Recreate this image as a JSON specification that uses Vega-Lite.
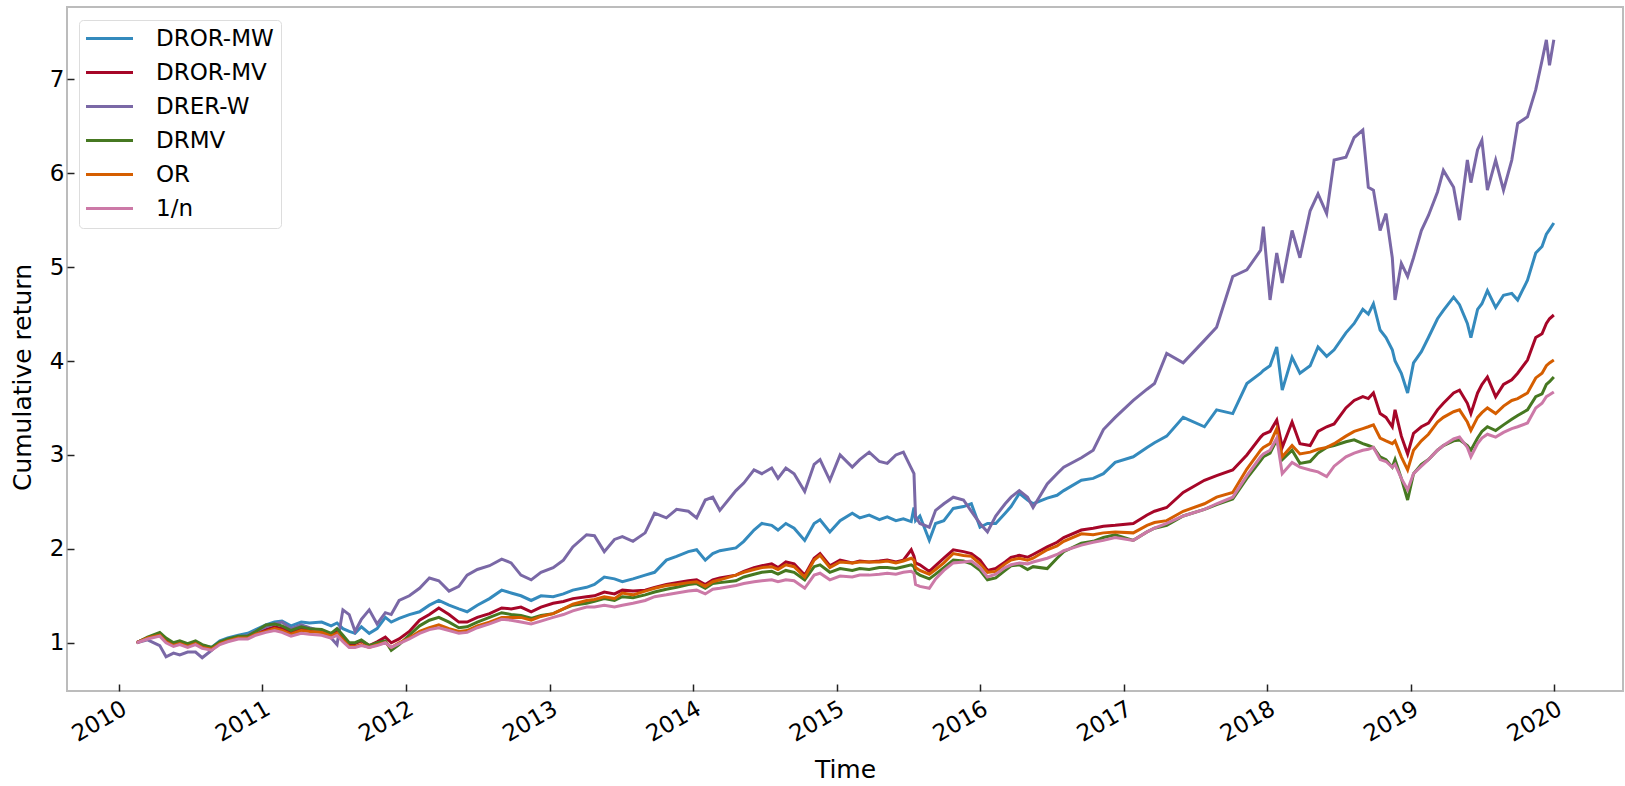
{
  "$schema": "https://vega.github.io/schema/vega-lite/v6.json",
  "width": 1556,
  "height": 684,
  "autosize": {"type": "none"},
  "padding": {"left": 67, "top": 7, "right": 2, "bottom": 95},
  "background": "white",
  "config": {
    "font": "DejaVu Sans",
    "view": {"stroke": "#bcbcbc", "strokeWidth": 2},
    "axis": {
      "grid": false,
      "domain": false,
      "tickColor": "#222222",
      "tickWidth": 1.5,
      "labelColor": "#000000",
      "titleColor": "#000000",
      "labelFontSize": 23,
      "titleFontSize": 25,
      "titleFontWeight": "normal",
      "labelFont": "DejaVu Sans",
      "titleFont": "DejaVu Sans"
    }
  },
  "data": {
    "values": [
      {"date": "2010-02-15", "DROR-MW": 1.00, "DROR-MV": 1.00, "DRER-W": 1.00, "DRMV": 1.00, "OR": 1.00, "1/n": 1.00},
      {"date": "2010-03-15", "DROR-MW": 1.05, "DROR-MV": 1.05, "DRER-W": 1.03, "DRMV": 1.06, "OR": 1.05, "1/n": 1.04},
      {"date": "2010-04-15", "DROR-MW": 1.08, "DROR-MV": 1.08, "DRER-W": 0.97, "DRMV": 1.11, "OR": 1.08, "1/n": 1.07},
      {"date": "2010-05-01", "DROR-MW": 1.02, "DROR-MV": 1.02, "DRER-W": 0.85, "DRMV": 1.05, "OR": 1.01, "1/n": 1.00},
      {"date": "2010-05-20", "DROR-MW": 0.98, "DROR-MV": 0.98, "DRER-W": 0.89, "DRMV": 1.00, "OR": 0.97, "1/n": 0.96},
      {"date": "2010-06-05", "DROR-MW": 1.00, "DROR-MV": 0.99, "DRER-W": 0.87, "DRMV": 1.02, "OR": 0.99, "1/n": 0.98},
      {"date": "2010-06-25", "DROR-MW": 0.97, "DROR-MV": 0.97, "DRER-W": 0.90, "DRMV": 0.99, "OR": 0.96, "1/n": 0.95},
      {"date": "2010-07-15", "DROR-MW": 1.00, "DROR-MV": 1.00, "DRER-W": 0.90, "DRMV": 1.02, "OR": 0.99, "1/n": 0.98},
      {"date": "2010-08-01", "DROR-MW": 0.97, "DROR-MV": 0.96, "DRER-W": 0.84, "DRMV": 0.98, "OR": 0.95, "1/n": 0.94},
      {"date": "2010-08-25", "DROR-MW": 0.95, "DROR-MV": 0.94, "DRER-W": 0.92, "DRMV": 0.95, "OR": 0.93, "1/n": 0.92},
      {"date": "2010-09-15", "DROR-MW": 1.02, "DROR-MV": 1.00, "DRER-W": 1.00, "DRMV": 1.01, "OR": 0.99, "1/n": 0.98},
      {"date": "2010-10-05", "DROR-MW": 1.05, "DROR-MV": 1.03, "DRER-W": 1.03, "DRMV": 1.04, "OR": 1.02, "1/n": 1.01},
      {"date": "2010-11-01", "DROR-MW": 1.08, "DROR-MV": 1.06, "DRER-W": 1.06, "DRMV": 1.07, "OR": 1.05, "1/n": 1.04},
      {"date": "2010-11-25", "DROR-MW": 1.10, "DROR-MV": 1.06, "DRER-W": 1.08, "DRMV": 1.07, "OR": 1.05, "1/n": 1.04},
      {"date": "2010-12-15", "DROR-MW": 1.14, "DROR-MV": 1.10, "DRER-W": 1.12, "DRMV": 1.12, "OR": 1.09, "1/n": 1.08},
      {"date": "2011-01-10", "DROR-MW": 1.19, "DROR-MV": 1.14, "DRER-W": 1.17, "DRMV": 1.19, "OR": 1.12, "1/n": 1.11},
      {"date": "2011-02-01", "DROR-MW": 1.22, "DROR-MV": 1.17, "DRER-W": 1.20, "DRMV": 1.20, "OR": 1.15, "1/n": 1.13},
      {"date": "2011-02-20", "DROR-MW": 1.23, "DROR-MV": 1.15, "DRER-W": 1.22, "DRMV": 1.18, "OR": 1.13, "1/n": 1.11},
      {"date": "2011-03-15", "DROR-MW": 1.18, "DROR-MV": 1.11, "DRER-W": 1.15, "DRMV": 1.13, "OR": 1.09, "1/n": 1.07},
      {"date": "2011-04-10", "DROR-MW": 1.22, "DROR-MV": 1.15, "DRER-W": 1.19, "DRMV": 1.17, "OR": 1.13, "1/n": 1.10},
      {"date": "2011-05-01", "DROR-MW": 1.21, "DROR-MV": 1.13, "DRER-W": 1.16, "DRMV": 1.15, "OR": 1.12, "1/n": 1.09},
      {"date": "2011-06-01", "DROR-MW": 1.22, "DROR-MV": 1.12, "DRER-W": 1.12, "DRMV": 1.14, "OR": 1.11, "1/n": 1.08},
      {"date": "2011-06-25", "DROR-MW": 1.18, "DROR-MV": 1.09, "DRER-W": 1.05, "DRMV": 1.10, "OR": 1.07, "1/n": 1.05},
      {"date": "2011-07-10", "DROR-MW": 1.21, "DROR-MV": 1.13, "DRER-W": 0.98, "DRMV": 1.15, "OR": 1.10, "1/n": 1.08},
      {"date": "2011-07-25", "DROR-MW": 1.15, "DROR-MV": 1.05, "DRER-W": 1.35, "DRMV": 1.08, "OR": 1.03, "1/n": 1.01},
      {"date": "2011-08-10", "DROR-MW": 1.12, "DROR-MV": 0.97, "DRER-W": 1.30, "DRMV": 1.00, "OR": 0.96, "1/n": 0.95},
      {"date": "2011-08-25", "DROR-MW": 1.10, "DROR-MV": 0.99, "DRER-W": 1.12, "DRMV": 1.00, "OR": 0.96, "1/n": 0.95},
      {"date": "2011-09-10", "DROR-MW": 1.17, "DROR-MV": 1.02, "DRER-W": 1.25, "DRMV": 1.03, "OR": 0.98, "1/n": 0.97},
      {"date": "2011-09-30", "DROR-MW": 1.10, "DROR-MV": 0.97, "DRER-W": 1.35, "DRMV": 0.97, "OR": 0.95, "1/n": 0.95},
      {"date": "2011-10-20", "DROR-MW": 1.15, "DROR-MV": 1.01, "DRER-W": 1.20, "DRMV": 1.00, "OR": 0.98, "1/n": 0.97},
      {"date": "2011-11-10", "DROR-MW": 1.27, "DROR-MV": 1.06, "DRER-W": 1.32, "DRMV": 1.02, "OR": 1.00, "1/n": 1.00},
      {"date": "2011-11-25", "DROR-MW": 1.22, "DROR-MV": 1.00, "DRER-W": 1.30, "DRMV": 0.92, "OR": 0.95, "1/n": 0.95},
      {"date": "2011-12-15", "DROR-MW": 1.26, "DROR-MV": 1.04, "DRER-W": 1.45, "DRMV": 0.98, "OR": 1.00, "1/n": 0.99},
      {"date": "2012-01-10", "DROR-MW": 1.30, "DROR-MV": 1.12, "DRER-W": 1.50, "DRMV": 1.08, "OR": 1.05, "1/n": 1.04},
      {"date": "2012-02-05", "DROR-MW": 1.33, "DROR-MV": 1.24, "DRER-W": 1.58, "DRMV": 1.18, "OR": 1.12, "1/n": 1.10},
      {"date": "2012-03-01", "DROR-MW": 1.40, "DROR-MV": 1.30, "DRER-W": 1.69, "DRMV": 1.24, "OR": 1.16, "1/n": 1.14},
      {"date": "2012-03-25", "DROR-MW": 1.45, "DROR-MV": 1.37, "DRER-W": 1.66, "DRMV": 1.27, "OR": 1.19, "1/n": 1.16},
      {"date": "2012-04-20", "DROR-MW": 1.40, "DROR-MV": 1.30, "DRER-W": 1.55, "DRMV": 1.22, "OR": 1.15, "1/n": 1.13},
      {"date": "2012-05-15", "DROR-MW": 1.36, "DROR-MV": 1.22, "DRER-W": 1.60, "DRMV": 1.16, "OR": 1.12, "1/n": 1.10},
      {"date": "2012-06-05", "DROR-MW": 1.33, "DROR-MV": 1.22, "DRER-W": 1.72, "DRMV": 1.17, "OR": 1.13, "1/n": 1.11},
      {"date": "2012-07-01", "DROR-MW": 1.40, "DROR-MV": 1.27, "DRER-W": 1.78, "DRMV": 1.22, "OR": 1.18, "1/n": 1.16},
      {"date": "2012-08-01", "DROR-MW": 1.47, "DROR-MV": 1.31, "DRER-W": 1.82, "DRMV": 1.27, "OR": 1.22, "1/n": 1.20},
      {"date": "2012-09-01", "DROR-MW": 1.56, "DROR-MV": 1.37, "DRER-W": 1.89, "DRMV": 1.32, "OR": 1.27, "1/n": 1.25},
      {"date": "2012-09-25", "DROR-MW": 1.53, "DROR-MV": 1.36, "DRER-W": 1.85, "DRMV": 1.30, "OR": 1.27, "1/n": 1.24},
      {"date": "2012-10-20", "DROR-MW": 1.50, "DROR-MV": 1.38, "DRER-W": 1.72, "DRMV": 1.29, "OR": 1.27, "1/n": 1.22},
      {"date": "2012-11-15", "DROR-MW": 1.45, "DROR-MV": 1.33, "DRER-W": 1.67, "DRMV": 1.26, "OR": 1.24, "1/n": 1.20},
      {"date": "2012-12-10", "DROR-MW": 1.50, "DROR-MV": 1.38, "DRER-W": 1.75, "DRMV": 1.29, "OR": 1.28, "1/n": 1.23},
      {"date": "2013-01-10", "DROR-MW": 1.49, "DROR-MV": 1.42, "DRER-W": 1.80, "DRMV": 1.31, "OR": 1.31, "1/n": 1.27},
      {"date": "2013-02-05", "DROR-MW": 1.52, "DROR-MV": 1.44, "DRER-W": 1.88, "DRMV": 1.36, "OR": 1.36, "1/n": 1.30},
      {"date": "2013-03-01", "DROR-MW": 1.56, "DROR-MV": 1.47, "DRER-W": 2.02, "DRMV": 1.40, "OR": 1.41, "1/n": 1.34},
      {"date": "2013-04-05", "DROR-MW": 1.59, "DROR-MV": 1.49, "DRER-W": 2.15, "DRMV": 1.42, "OR": 1.45, "1/n": 1.38},
      {"date": "2013-04-25", "DROR-MW": 1.62, "DROR-MV": 1.50, "DRER-W": 2.14, "DRMV": 1.44, "OR": 1.46, "1/n": 1.38},
      {"date": "2013-05-20", "DROR-MW": 1.70, "DROR-MV": 1.54, "DRER-W": 1.97, "DRMV": 1.47, "OR": 1.49, "1/n": 1.40},
      {"date": "2013-06-15", "DROR-MW": 1.68, "DROR-MV": 1.52, "DRER-W": 2.10, "DRMV": 1.45, "OR": 1.47, "1/n": 1.38},
      {"date": "2013-07-05", "DROR-MW": 1.65, "DROR-MV": 1.56, "DRER-W": 2.13, "DRMV": 1.49, "OR": 1.53, "1/n": 1.40},
      {"date": "2013-08-01", "DROR-MW": 1.68, "DROR-MV": 1.55, "DRER-W": 2.08, "DRMV": 1.48, "OR": 1.51, "1/n": 1.42},
      {"date": "2013-09-01", "DROR-MW": 1.72, "DROR-MV": 1.56, "DRER-W": 2.17, "DRMV": 1.51, "OR": 1.55, "1/n": 1.45},
      {"date": "2013-09-25", "DROR-MW": 1.75, "DROR-MV": 1.59, "DRER-W": 2.38, "DRMV": 1.54, "OR": 1.58, "1/n": 1.49},
      {"date": "2013-10-25", "DROR-MW": 1.88, "DROR-MV": 1.62, "DRER-W": 2.33, "DRMV": 1.57, "OR": 1.61, "1/n": 1.51},
      {"date": "2013-11-20", "DROR-MW": 1.92, "DROR-MV": 1.64, "DRER-W": 2.42, "DRMV": 1.59, "OR": 1.62, "1/n": 1.53},
      {"date": "2013-12-20", "DROR-MW": 1.97, "DROR-MV": 1.66, "DRER-W": 2.40, "DRMV": 1.62, "OR": 1.64, "1/n": 1.55},
      {"date": "2014-01-10", "DROR-MW": 1.99, "DROR-MV": 1.67, "DRER-W": 2.33, "DRMV": 1.63, "OR": 1.65, "1/n": 1.56},
      {"date": "2014-02-01", "DROR-MW": 1.88, "DROR-MV": 1.62, "DRER-W": 2.52, "DRMV": 1.58, "OR": 1.60, "1/n": 1.52},
      {"date": "2014-02-20", "DROR-MW": 1.95, "DROR-MV": 1.67, "DRER-W": 2.55, "DRMV": 1.63, "OR": 1.65, "1/n": 1.57},
      {"date": "2014-03-10", "DROR-MW": 1.98, "DROR-MV": 1.69, "DRER-W": 2.41, "DRMV": 1.64, "OR": 1.67, "1/n": 1.58},
      {"date": "2014-04-20", "DROR-MW": 2.01, "DROR-MV": 1.72, "DRER-W": 2.62, "DRMV": 1.66, "OR": 1.72, "1/n": 1.61},
      {"date": "2014-05-10", "DROR-MW": 2.08, "DROR-MV": 1.76, "DRER-W": 2.70, "DRMV": 1.70, "OR": 1.75, "1/n": 1.63},
      {"date": "2014-06-05", "DROR-MW": 2.20, "DROR-MV": 1.80, "DRER-W": 2.84, "DRMV": 1.73, "OR": 1.78, "1/n": 1.65},
      {"date": "2014-06-25", "DROR-MW": 2.27, "DROR-MV": 1.82, "DRER-W": 2.80, "DRMV": 1.75, "OR": 1.80, "1/n": 1.66},
      {"date": "2014-07-20", "DROR-MW": 2.25, "DROR-MV": 1.84, "DRER-W": 2.86, "DRMV": 1.76, "OR": 1.81, "1/n": 1.67},
      {"date": "2014-08-05", "DROR-MW": 2.20, "DROR-MV": 1.80, "DRER-W": 2.75, "DRMV": 1.73, "OR": 1.78, "1/n": 1.65},
      {"date": "2014-08-25", "DROR-MW": 2.27, "DROR-MV": 1.86, "DRER-W": 2.86, "DRMV": 1.77, "OR": 1.83, "1/n": 1.67},
      {"date": "2014-09-15", "DROR-MW": 2.22, "DROR-MV": 1.84, "DRER-W": 2.80, "DRMV": 1.75, "OR": 1.81, "1/n": 1.66},
      {"date": "2014-10-12", "DROR-MW": 2.09, "DROR-MV": 1.72, "DRER-W": 2.61, "DRMV": 1.67, "OR": 1.70, "1/n": 1.58},
      {"date": "2014-11-05", "DROR-MW": 2.27, "DROR-MV": 1.90, "DRER-W": 2.90, "DRMV": 1.81, "OR": 1.88, "1/n": 1.72},
      {"date": "2014-11-20", "DROR-MW": 2.31, "DROR-MV": 1.95, "DRER-W": 2.95, "DRMV": 1.83, "OR": 1.93, "1/n": 1.74},
      {"date": "2014-12-15", "DROR-MW": 2.18, "DROR-MV": 1.82, "DRER-W": 2.73, "DRMV": 1.75, "OR": 1.80, "1/n": 1.67},
      {"date": "2015-01-10", "DROR-MW": 2.30, "DROR-MV": 1.88, "DRER-W": 3.00, "DRMV": 1.79, "OR": 1.86, "1/n": 1.71},
      {"date": "2015-02-10", "DROR-MW": 2.38, "DROR-MV": 1.85, "DRER-W": 2.87, "DRMV": 1.77, "OR": 1.85, "1/n": 1.70},
      {"date": "2015-03-01", "DROR-MW": 2.33, "DROR-MV": 1.87, "DRER-W": 2.95, "DRMV": 1.79, "OR": 1.86, "1/n": 1.72},
      {"date": "2015-03-25", "DROR-MW": 2.36, "DROR-MV": 1.86, "DRER-W": 3.03, "DRMV": 1.78, "OR": 1.86, "1/n": 1.72},
      {"date": "2015-04-20", "DROR-MW": 2.31, "DROR-MV": 1.87, "DRER-W": 2.93, "DRMV": 1.80, "OR": 1.86, "1/n": 1.73},
      {"date": "2015-05-10", "DROR-MW": 2.34, "DROR-MV": 1.88, "DRER-W": 2.91, "DRMV": 1.80, "OR": 1.87, "1/n": 1.74},
      {"date": "2015-06-01", "DROR-MW": 2.30, "DROR-MV": 1.86, "DRER-W": 3.00, "DRMV": 1.79, "OR": 1.85, "1/n": 1.73},
      {"date": "2015-06-20", "DROR-MW": 2.32, "DROR-MV": 1.88, "DRER-W": 3.03, "DRMV": 1.81, "OR": 1.87, "1/n": 1.75},
      {"date": "2015-07-10", "DROR-MW": 2.29, "DROR-MV": 1.99, "DRER-W": 2.86, "DRMV": 1.83, "OR": 1.90, "1/n": 1.76},
      {"date": "2015-07-17", "DROR-MW": 2.44, "DROR-MV": 1.92, "DRER-W": 2.80, "DRMV": 1.81, "OR": 1.88, "1/n": 1.74},
      {"date": "2015-07-21", "DROR-MW": 2.30, "DROR-MV": 1.85, "DRER-W": 2.34, "DRMV": 1.75, "OR": 1.80, "1/n": 1.62},
      {"date": "2015-08-01", "DROR-MW": 2.35, "DROR-MV": 1.83, "DRER-W": 2.27, "DRMV": 1.72, "OR": 1.77, "1/n": 1.60},
      {"date": "2015-08-25", "DROR-MW": 2.09, "DROR-MV": 1.76, "DRER-W": 2.23, "DRMV": 1.68, "OR": 1.73, "1/n": 1.58},
      {"date": "2015-09-10", "DROR-MW": 2.27, "DROR-MV": 1.82, "DRER-W": 2.41, "DRMV": 1.73, "OR": 1.78, "1/n": 1.68},
      {"date": "2015-10-01", "DROR-MW": 2.30, "DROR-MV": 1.90, "DRER-W": 2.48, "DRMV": 1.80, "OR": 1.85, "1/n": 1.77},
      {"date": "2015-10-25", "DROR-MW": 2.43, "DROR-MV": 1.99, "DRER-W": 2.55, "DRMV": 1.88, "OR": 1.95, "1/n": 1.85},
      {"date": "2015-11-20", "DROR-MW": 2.45, "DROR-MV": 1.97, "DRER-W": 2.52, "DRMV": 1.87, "OR": 1.93, "1/n": 1.86},
      {"date": "2015-12-10", "DROR-MW": 2.48, "DROR-MV": 1.95, "DRER-W": 2.40, "DRMV": 1.84, "OR": 1.92, "1/n": 1.87},
      {"date": "2016-01-01", "DROR-MW": 2.23, "DROR-MV": 1.88, "DRER-W": 2.27, "DRMV": 1.77, "OR": 1.84, "1/n": 1.80},
      {"date": "2016-01-20", "DROR-MW": 2.27, "DROR-MV": 1.77, "DRER-W": 2.18, "DRMV": 1.67, "OR": 1.75, "1/n": 1.70},
      {"date": "2016-02-10", "DROR-MW": 2.27, "DROR-MV": 1.79, "DRER-W": 2.35, "DRMV": 1.69, "OR": 1.76, "1/n": 1.73},
      {"date": "2016-03-05", "DROR-MW": 2.38, "DROR-MV": 1.86, "DRER-W": 2.48, "DRMV": 1.77, "OR": 1.84, "1/n": 1.80},
      {"date": "2016-03-20", "DROR-MW": 2.45, "DROR-MV": 1.91, "DRER-W": 2.55, "DRMV": 1.82, "OR": 1.88, "1/n": 1.83},
      {"date": "2016-04-10", "DROR-MW": 2.59, "DROR-MV": 1.93, "DRER-W": 2.62, "DRMV": 1.83, "OR": 1.90, "1/n": 1.85},
      {"date": "2016-05-01", "DROR-MW": 2.52, "DROR-MV": 1.91, "DRER-W": 2.55, "DRMV": 1.78, "OR": 1.88, "1/n": 1.84},
      {"date": "2016-05-15", "DROR-MW": 2.48, "DROR-MV": 1.94, "DRER-W": 2.44, "DRMV": 1.81, "OR": 1.90, "1/n": 1.86},
      {"date": "2016-06-20", "DROR-MW": 2.54, "DROR-MV": 2.02, "DRER-W": 2.69, "DRMV": 1.79, "OR": 1.99, "1/n": 1.90},
      {"date": "2016-07-15", "DROR-MW": 2.57, "DROR-MV": 2.07, "DRER-W": 2.80, "DRMV": 1.90, "OR": 2.03, "1/n": 1.94},
      {"date": "2016-08-01", "DROR-MW": 2.62, "DROR-MV": 2.12, "DRER-W": 2.87, "DRMV": 1.97, "OR": 2.08, "1/n": 1.98},
      {"date": "2016-09-15", "DROR-MW": 2.73, "DROR-MV": 2.20, "DRER-W": 2.97, "DRMV": 2.06, "OR": 2.16, "1/n": 2.04},
      {"date": "2016-10-15", "DROR-MW": 2.75, "DROR-MV": 2.22, "DRER-W": 3.05, "DRMV": 2.08, "OR": 2.15, "1/n": 2.07},
      {"date": "2016-11-10", "DROR-MW": 2.80, "DROR-MV": 2.24, "DRER-W": 3.27, "DRMV": 2.12, "OR": 2.17, "1/n": 2.09},
      {"date": "2016-12-10", "DROR-MW": 2.92, "DROR-MV": 2.25, "DRER-W": 3.40, "DRMV": 2.15, "OR": 2.18, "1/n": 2.12},
      {"date": "2017-01-25", "DROR-MW": 2.98, "DROR-MV": 2.27, "DRER-W": 3.58, "DRMV": 2.09, "OR": 2.17, "1/n": 2.09},
      {"date": "2017-03-01", "DROR-MW": 3.08, "DROR-MV": 2.36, "DRER-W": 3.70, "DRMV": 2.18, "OR": 2.25, "1/n": 2.18},
      {"date": "2017-03-20", "DROR-MW": 3.13, "DROR-MV": 2.40, "DRER-W": 3.76, "DRMV": 2.22, "OR": 2.28, "1/n": 2.22},
      {"date": "2017-04-20", "DROR-MW": 3.20, "DROR-MV": 2.44, "DRER-W": 4.08, "DRMV": 2.25, "OR": 2.30, "1/n": 2.27},
      {"date": "2017-06-01", "DROR-MW": 3.40, "DROR-MV": 2.60, "DRER-W": 3.98, "DRMV": 2.35, "OR": 2.40, "1/n": 2.35},
      {"date": "2017-07-25", "DROR-MW": 3.30, "DROR-MV": 2.73, "DRER-W": 4.22, "DRMV": 2.42, "OR": 2.48, "1/n": 2.42},
      {"date": "2017-08-25", "DROR-MW": 3.48, "DROR-MV": 2.78, "DRER-W": 4.36, "DRMV": 2.47, "OR": 2.55, "1/n": 2.48},
      {"date": "2017-10-05", "DROR-MW": 3.44, "DROR-MV": 2.84, "DRER-W": 4.90, "DRMV": 2.53, "OR": 2.60, "1/n": 2.55},
      {"date": "2017-11-10", "DROR-MW": 3.76, "DROR-MV": 3.00, "DRER-W": 4.97, "DRMV": 2.75, "OR": 2.85, "1/n": 2.78},
      {"date": "2017-12-15", "DROR-MW": 3.87, "DROR-MV": 3.19, "DRER-W": 5.18, "DRMV": 2.94, "OR": 3.05, "1/n": 2.98},
      {"date": "2017-12-22", "DROR-MW": 3.90, "DROR-MV": 3.22, "DRER-W": 5.43, "DRMV": 2.98, "OR": 3.08, "1/n": 3.01},
      {"date": "2018-01-08", "DROR-MW": 3.95, "DROR-MV": 3.25, "DRER-W": 4.65, "DRMV": 3.02, "OR": 3.12, "1/n": 3.05},
      {"date": "2018-01-25", "DROR-MW": 4.15, "DROR-MV": 3.37, "DRER-W": 5.15, "DRMV": 3.16, "OR": 3.28, "1/n": 3.18},
      {"date": "2018-02-08", "DROR-MW": 3.69, "DROR-MV": 3.08, "DRER-W": 4.83, "DRMV": 2.95, "OR": 2.98, "1/n": 2.80},
      {"date": "2018-03-05", "DROR-MW": 4.04, "DROR-MV": 3.35, "DRER-W": 5.39, "DRMV": 3.05, "OR": 3.10, "1/n": 2.92},
      {"date": "2018-03-25", "DROR-MW": 3.87, "DROR-MV": 3.12, "DRER-W": 5.10, "DRMV": 2.91, "OR": 3.01, "1/n": 2.87},
      {"date": "2018-04-20", "DROR-MW": 3.95, "DROR-MV": 3.10, "DRER-W": 5.60, "DRMV": 2.93, "OR": 3.03, "1/n": 2.84},
      {"date": "2018-05-10", "DROR-MW": 4.15, "DROR-MV": 3.25, "DRER-W": 5.78, "DRMV": 3.02, "OR": 3.06, "1/n": 2.82},
      {"date": "2018-06-01", "DROR-MW": 4.05, "DROR-MV": 3.30, "DRER-W": 5.57, "DRMV": 3.08, "OR": 3.08, "1/n": 2.77},
      {"date": "2018-06-20", "DROR-MW": 4.12, "DROR-MV": 3.33, "DRER-W": 6.14, "DRMV": 3.10, "OR": 3.12, "1/n": 2.88},
      {"date": "2018-07-20", "DROR-MW": 4.30, "DROR-MV": 3.50, "DRER-W": 6.17, "DRMV": 3.14, "OR": 3.20, "1/n": 2.98},
      {"date": "2018-08-10", "DROR-MW": 4.40, "DROR-MV": 3.58, "DRER-W": 6.38, "DRMV": 3.16, "OR": 3.25, "1/n": 3.02},
      {"date": "2018-09-01", "DROR-MW": 4.55, "DROR-MV": 3.62, "DRER-W": 6.46, "DRMV": 3.12, "OR": 3.28, "1/n": 3.05},
      {"date": "2018-09-15", "DROR-MW": 4.50, "DROR-MV": 3.60, "DRER-W": 5.85, "DRMV": 3.10, "OR": 3.30, "1/n": 3.06},
      {"date": "2018-09-28", "DROR-MW": 4.61, "DROR-MV": 3.66, "DRER-W": 5.82, "DRMV": 3.08, "OR": 3.32, "1/n": 3.08},
      {"date": "2018-10-15", "DROR-MW": 4.33, "DROR-MV": 3.44, "DRER-W": 5.39, "DRMV": 2.98, "OR": 3.18, "1/n": 2.95},
      {"date": "2018-10-30", "DROR-MW": 4.25, "DROR-MV": 3.40, "DRER-W": 5.57, "DRMV": 2.95, "OR": 3.15, "1/n": 2.93},
      {"date": "2018-11-15", "DROR-MW": 4.12, "DROR-MV": 3.30, "DRER-W": 5.10, "DRMV": 2.87, "OR": 3.12, "1/n": 2.87},
      {"date": "2018-11-22", "DROR-MW": 4.00, "DROR-MV": 3.48, "DRER-W": 4.65, "DRMV": 2.95, "OR": 3.15, "1/n": 2.90},
      {"date": "2018-12-08", "DROR-MW": 3.87, "DROR-MV": 3.20, "DRER-W": 5.04, "DRMV": 2.75, "OR": 2.98, "1/n": 2.75},
      {"date": "2018-12-24", "DROR-MW": 3.66, "DROR-MV": 3.01, "DRER-W": 4.90, "DRMV": 2.52, "OR": 2.84, "1/n": 2.63},
      {"date": "2019-01-08", "DROR-MW": 3.98, "DROR-MV": 3.23, "DRER-W": 5.10, "DRMV": 2.80, "OR": 3.05, "1/n": 2.80},
      {"date": "2019-01-28", "DROR-MW": 4.10, "DROR-MV": 3.30, "DRER-W": 5.39, "DRMV": 2.90, "OR": 3.15, "1/n": 2.88},
      {"date": "2019-02-15", "DROR-MW": 4.25, "DROR-MV": 3.34, "DRER-W": 5.55, "DRMV": 2.95, "OR": 3.22, "1/n": 2.95},
      {"date": "2019-03-10", "DROR-MW": 4.45, "DROR-MV": 3.48, "DRER-W": 5.80, "DRMV": 3.05, "OR": 3.35, "1/n": 3.05},
      {"date": "2019-03-25", "DROR-MW": 4.54, "DROR-MV": 3.55, "DRER-W": 6.03, "DRMV": 3.10, "OR": 3.40, "1/n": 3.10},
      {"date": "2019-04-20", "DROR-MW": 4.68, "DROR-MV": 3.66, "DRER-W": 5.85, "DRMV": 3.15, "OR": 3.46, "1/n": 3.17},
      {"date": "2019-05-05", "DROR-MW": 4.60, "DROR-MV": 3.69, "DRER-W": 5.50, "DRMV": 3.16, "OR": 3.48, "1/n": 3.19},
      {"date": "2019-05-25", "DROR-MW": 4.40, "DROR-MV": 3.55, "DRER-W": 6.14, "DRMV": 3.10, "OR": 3.35, "1/n": 3.08},
      {"date": "2019-06-03", "DROR-MW": 4.25, "DROR-MV": 3.44, "DRER-W": 5.90, "DRMV": 3.05, "OR": 3.26, "1/n": 2.98},
      {"date": "2019-06-20", "DROR-MW": 4.55, "DROR-MV": 3.66, "DRER-W": 6.25, "DRMV": 3.18, "OR": 3.40, "1/n": 3.12},
      {"date": "2019-07-01", "DROR-MW": 4.61, "DROR-MV": 3.75, "DRER-W": 6.35, "DRMV": 3.25, "OR": 3.45, "1/n": 3.18},
      {"date": "2019-07-15", "DROR-MW": 4.75, "DROR-MV": 3.83, "DRER-W": 5.82, "DRMV": 3.30, "OR": 3.50, "1/n": 3.22},
      {"date": "2019-08-05", "DROR-MW": 4.57, "DROR-MV": 3.62, "DRER-W": 6.14, "DRMV": 3.26, "OR": 3.44, "1/n": 3.19},
      {"date": "2019-08-25", "DROR-MW": 4.70, "DROR-MV": 3.75, "DRER-W": 5.82, "DRMV": 3.32, "OR": 3.52, "1/n": 3.24},
      {"date": "2019-09-15", "DROR-MW": 4.72, "DROR-MV": 3.80, "DRER-W": 6.14, "DRMV": 3.38, "OR": 3.58, "1/n": 3.28},
      {"date": "2019-09-30", "DROR-MW": 4.65, "DROR-MV": 3.87, "DRER-W": 6.53, "DRMV": 3.42, "OR": 3.60, "1/n": 3.30},
      {"date": "2019-10-25", "DROR-MW": 4.86, "DROR-MV": 4.01, "DRER-W": 6.60, "DRMV": 3.48, "OR": 3.66, "1/n": 3.34},
      {"date": "2019-11-15", "DROR-MW": 5.15, "DROR-MV": 4.25, "DRER-W": 6.89, "DRMV": 3.62, "OR": 3.82, "1/n": 3.50},
      {"date": "2019-12-01", "DROR-MW": 5.22, "DROR-MV": 4.29, "DRER-W": 7.20, "DRMV": 3.65, "OR": 3.87, "1/n": 3.55},
      {"date": "2019-12-12", "DROR-MW": 5.35, "DROR-MV": 4.40, "DRER-W": 7.42, "DRMV": 3.75, "OR": 3.95, "1/n": 3.62},
      {"date": "2019-12-20", "DROR-MW": 5.40, "DROR-MV": 4.45, "DRER-W": 7.15, "DRMV": 3.78, "OR": 3.98, "1/n": 3.64},
      {"date": "2019-12-31", "DROR-MW": 5.47, "DROR-MV": 4.49, "DRER-W": 7.42, "DRMV": 3.83, "OR": 4.01, "1/n": 3.67}
    ]
  },
  "transform": [
    {"fold": ["DROR-MW", "DROR-MV", "DRER-W", "DRMV", "OR", "1/n"], "as": ["series", "value"]}
  ],
  "mark": {"type": "line", "strokeWidth": 3, "clip": true},
  "encoding": {
    "x": {
      "field": "date",
      "type": "temporal",
      "title": "Time",
      "scale": {"domain": ["2009-08-22", "2020-06-24"], "nice": false},
      "axis": {
        "values": [{"year": 2010}, {"year": 2011}, {"year": 2012}, {"year": 2013}, {"year": 2014}, {"year": 2015}, {"year": 2016}, {"year": 2017}, {"year": 2018}, {"year": 2019}, {"year": 2020}],
        "format": "%Y",
        "labelAngle": -30,
        "labelAlign": "right",
        "labelBaseline": "top",
        "tickSize": -7,
        "labelPadding": 13,
        "titleY": 86,
        "titleBaseline": "alphabetic",
        "titleAnchor": "middle"
      }
    },
    "y": {
      "field": "value",
      "type": "quantitative",
      "title": "Cumulative return",
      "scale": {"domain": [0.486, 7.77], "nice": false, "zero": false},
      "axis": {
        "values": [1, 2, 3, 4, 5, 6, 7],
        "tickSize": -7,
        "labelPadding": 10,
        "titleX": -45,
        "titleY": 370,
        "titleBaseline": "middle",
        "titleAlign": "center",
        "titleAngle": -90
      }
    },
    "color": {
      "field": "series",
      "type": "nominal",
      "scale": {
        "domain": ["DROR-MW", "DROR-MV", "DRER-W", "DRMV", "OR", "1/n"],
        "range": ["#348ABD", "#A60628", "#7A68A6", "#467821", "#D55E00", "#CC79A7"]
      },
      "legend": {
        "title": null,
        "orient": "none",
        "legendX": 12,
        "legendY": 13,
        "symbolType": "M-2.35,0H2.35",
        "symbolSize": 400,
        "symbolStrokeWidth": 3,
        "symbolOffset": 12,
        "labelFontSize": 23,
        "labelFont": "DejaVu Sans",
        "labelColor": "#000000",
        "labelOffset": 35,
        "rowPadding": 10,
        "padding": 7,
        "strokeColor": "#dddddd",
        "fillColor": "#ffffff",
        "cornerRadius": 4
      }
    }
  }
}
